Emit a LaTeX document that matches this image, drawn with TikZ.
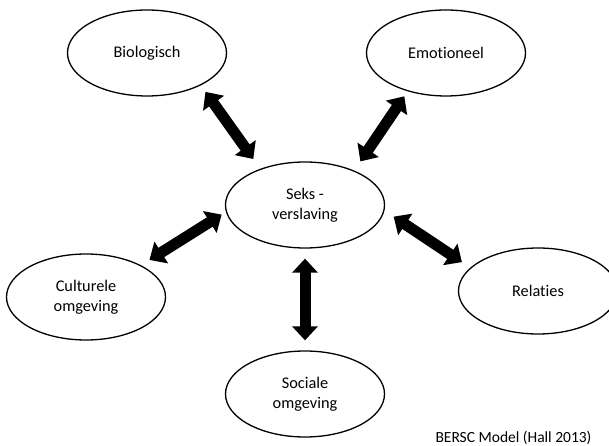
\documentclass[tikz,border=0pt]{standalone}
\usepackage{fontspec}
\setmainfont[Ligatures=NoCommon]{Carlito}
\usetikzlibrary{shapes.geometric,arrows.meta}
\begin{document}
\begin{tikzpicture}[x=1pt,y=1pt,
	bol/.style={ellipse,draw,line width=1.3pt,minimum width=159pt,minimum height=86pt,inner sep=0pt,align=center,font=\fontsize{16.3}{19.5}\selectfont},
	pijl/.style={line width=11pt,>={Triangle[width=25pt,length=14pt]},<->}]
			\useasboundingbox (0,0) rectangle (609,446);
			\node[bol] (bio) at (147,393) {Biologisch};
			\node[bol] (emo) at (446,393) {Emotioneel};
			\node[bol] (sks) at (305,241) {Seks -\\verslaving};
			\node[bol] (cul) at (86,149) {Culturele\\omgeving};
			\node[bol] (rel) at (538,155) {Relaties};
			\node[bol] (soc) at (305,52) {Sociale\\omgeving};
			\node[anchor=base east,font=\fontsize{15.5}{18}\selectfont] (bron) at (595,3) {BERSC Model (Hall 2013)};
			\draw[pijl,shorten <=8pt,shorten >=12pt] (bio.-31) -- (sks.141);
			\draw[pijl,shorten <=6pt,shorten >=11pt] (emo.225) -- (sks.35);
			\draw[pijl,shorten <=10pt,shorten >=5pt] (cul.30) -- (sks.185);
			\draw[pijl,shorten <=11pt,shorten >=10pt] (sks.-4) -- (rel.161);
			\draw[pijl,shorten <=10pt,shorten >=10pt] (sks.south) -- (soc.north);
		\end{tikzpicture}
\end{document}
